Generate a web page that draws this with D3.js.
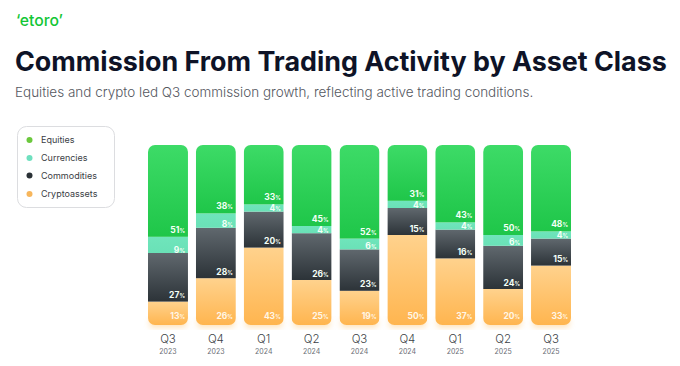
<!DOCTYPE html>
<html>
<head>
<meta charset="utf-8">
<script src="https://cdn.jsdelivr.net/npm/d3@7"></script>
<style>
  html, body { margin: 0; padding: 0; background: #ffffff; }
  svg { display: block; font-family: Inter, "Noto Sans", sans-serif; }
</style>
</head>
<body>
<svg id="chart" width="680" height="366"></svg>
<script>
const quarters = ["Q3", "Q4", "Q1", "Q2", "Q3", "Q4", "Q1", "Q2", "Q3"];
const years    = ["2023", "2023", "2024", "2024", "2024", "2024", "2025", "2025", "2025"];
const cryptoassets = [13, 26, 43, 25, 19, 50, 37, 20, 33];
const commodities  = [27, 28, 20, 26, 23, 15, 16, 24, 15];
const currencies   = [9, 8, 4, 4, 6, 4, 4, 6, 4];
const equities     = [51, 38, 33, 45, 52, 31, 43, 50, 48];
const seriesNames  = ["Cryptoassets", "Commodities", "Currencies", "Equities"];
const legendNames  = ["Equities", "Currencies", "Commodities", "Cryptoassets"];

const title = "Commission From Trading Activity by Asset Class";
const subtitle = "Equities and crypto led Q3 commission growth, reflecting active trading conditions.";

const svg = d3.select("#chart");
const defs = svg.append("defs");

const keys = quarters.map((q, i) => q + " " + years[i]);
const rows = keys.map((k, i) => ({
  key: k, q: quarters[i], y: years[i],
  Cryptoassets: cryptoassets[i], Commodities: commodities[i],
  Currencies: currencies[i], Equities: equities[i]
}));

const grad = {
  Equities: ["#3ddb67", "#1fc649"],
  Currencies: ["#6fe5bb", "#6ae1b7"],
  Commodities: ["#60686e", "#2c3338"],
  Cryptoassets: ["#ffd28d", "#ffb54f"]
};
Object.entries(grad).forEach(([k, c]) => {
  const g = defs.append("linearGradient").attr("id", "g-" + k)
    .attr("x1", 0).attr("y1", 0).attr("x2", 0).attr("y2", 1);
  g.append("stop").attr("offset", "0%").attr("stop-color", c[0]);
  g.append("stop").attr("offset", "100%").attr("stop-color", c[1]);
});
const glow = defs.append("filter").attr("id", "glow")
  .attr("x", "-30%").attr("y", "-30%").attr("width", "160%").attr("height", "160%");
glow.append("feGaussianBlur").attr("stdDeviation", 3);

// Logo
const lgText = svg.append("text").attr("x", 16).attr("y", 26)
  .attr("font-size", 14).attr("font-weight", 500).attr("fill", "#13c636")
  .text("‘etoro’");
const lw = lgText.node().getComputedTextLength();
lgText.attr("font-size", 14 * 47 / lw);

// Title
const t = svg.append("text").attr("x", 15).attr("y", 71)
  .attr("font-size", 28).attr("font-weight", 700).attr("fill", "#0e1327")
  .text(title);
const tw = t.node().getComputedTextLength();
t.attr("font-size", 28 * 652 / tw);

const s = svg.append("text").attr("x", 15).attr("y", 97)
  .attr("font-size", 16).attr("font-weight", 300).attr("fill", "#55585f")
  .text(subtitle);
const sw = s.node().getComputedTextLength();
s.attr("font-size", 16 * 519 / sw);

// Scales
const x = d3.scaleBand().domain(keys).range([148, 571]).paddingInner(0.165).paddingOuter(0);
const y = d3.scaleLinear().domain([0, 100]).range([325, 145]);

const stack = d3.stack().keys(seriesNames);
const layers = stack(rows);

// glow at bottom of bars
svg.append("g").selectAll("rect").data(rows).join("rect")
  .attr("x", d => x(d.key) + 2).attr("width", x.bandwidth() - 4)
  .attr("y", y(0) - 6).attr("height", 8)
  .attr("fill", "#ffc97a").attr("opacity", 0.6).attr("filter", "url(#glow)");

// clip paths per bar
rows.forEach((d, i) => {
  defs.append("clipPath").attr("id", "clip" + i)
    .append("rect").attr("x", x(d.key)).attr("width", x.bandwidth())
    .attr("y", y(100)).attr("height", y(0) - y(100)).attr("rx", 7).attr("ry", 7);
});

const barG = svg.append("g");
rows.forEach((d, i) => {
  const g = barG.append("g").attr("clip-path", "url(#clip" + i + ")");
  layers.forEach(layer => {
    const seg = layer[i];
    g.append("rect")
      .attr("x", x(d.key)).attr("width", x.bandwidth())
      .attr("y", y(seg[1])).attr("height", y(seg[0]) - y(seg[1]))
      .attr("fill", "url(#g-" + layer.key + ")");
  });
});

// labels
const offsets = { Cryptoassets: 6, Commodities: 3.5, Currencies: 0.5, Equities: 4 };
const labG = svg.append("g").attr("font-weight", 700).attr("text-anchor", "end");
rows.forEach((d, i) => {
  layers.forEach(layer => {
    const seg = layer[i];
    const tx = labG.append("text")
      .attr("x", x(d.key) + x.bandwidth() - 3)
      .attr("y", y(seg[0]) - offsets[layer.key])
      .attr("fill", layer.key === "Cryptoassets" ? "#fff6e6" : "#f4fff7")
      .attr("font-size", 8.5);
    tx.append("tspan").text(d[layer.key]);
    tx.append("tspan").attr("font-size", 5.5).text("%");
  });
});

// x axis labels
const xl = svg.append("g").attr("text-anchor", "middle");
rows.forEach(d => {
  const cx = x(d.key) + x.bandwidth() / 2;
  xl.append("text").attr("x", cx).attr("y", 343).attr("font-size", 11.5)
    .attr("font-weight", 300).attr("fill", "#3c3f47").text(d.q);
  xl.append("text").attr("x", cx).attr("y", 354).attr("font-size", 7)
    .attr("fill", "#6b6e75").text(d.y);
});

// Legend
const lg = svg.append("g");
lg.append("rect").attr("x", 17.5).attr("y", 126.5).attr("width", 97).attr("height", 81)
  .attr("rx", 9).attr("fill", "#fff").attr("stroke", "#dcdde0");
const dotColors = { Equities: "#6bc83d", Currencies: "#6fe0bf", Commodities: "#2a3136", Cryptoassets: "#f7b65c" };
const ly = [140, 158, 175.5, 194];
legendNames.forEach((n, i) => {
  lg.append("circle").attr("cx", 29.5).attr("cy", ly[i]).attr("r", 3).attr("fill", dotColors[n]);
  lg.append("text").attr("x", 41).attr("y", ly[i] + 3).attr("font-size", 9)
    .attr("fill", "#3a3d44").text(n);
});
</script>
</body>
</html>
